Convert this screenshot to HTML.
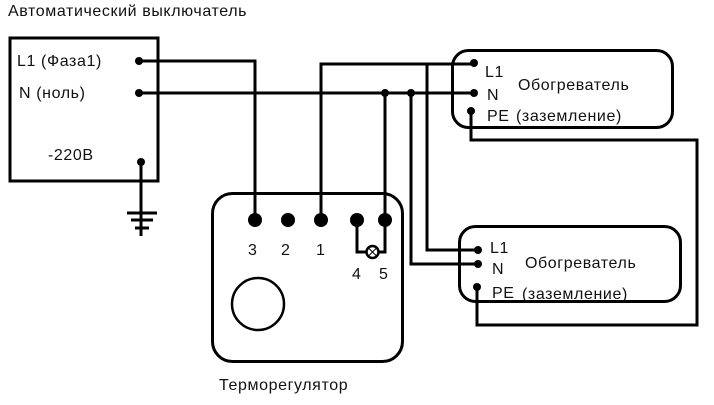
<!DOCTYPE html>
<html><head><meta charset="utf-8"><style>
body{margin:0;background:#fff;width:714px;height:400px;overflow:hidden}
svg text{font-family:"Liberation Sans",sans-serif;font-size:16px;letter-spacing:0.6px;fill:#111}
</style></head><body>
<svg width="714" height="400" viewBox="0 0 714 400" xmlns="http://www.w3.org/2000/svg">
<g fill="none" stroke="#000" stroke-width="3">
<rect x="10" y="38" width="148" height="143"/>
<rect x="212.5" y="193.5" width="190" height="168" rx="20"/>
<rect x="452.5" y="50.5" width="220" height="77" rx="16"/>
<rect x="459.5" y="226.5" width="221" height="75" rx="16"/>
<circle cx="258" cy="304" r="26" stroke-width="2.5"/>
<polyline points="139,61 255,61 255,220"/>
<polyline points="139,93 474,93"/>
<polyline points="321,220 321,64 474,64"/>
<polyline points="385,93 385,220"/>
<polyline points="411,93 411,264 478,264"/>
<polyline points="427,64 427,250 478,250"/>
<polyline points="471,111 471,140 697,140 697,325 477,325 477,287"/>
<polyline points="141,162 141,236"/>
<line x1="127" y1="213" x2="157" y2="213"/>
<line x1="131" y1="220" x2="153" y2="220"/>
<line x1="135" y1="228" x2="149" y2="228"/>
<polyline points="357,220 357,252 366,252"/>
<polyline points="379,252 385,252 385,220"/>
<circle cx="372.5" cy="252" r="6" stroke-width="2.5"/>
<path d="M368.5 248 L376.5 256 M376.5 248 L368.5 256" stroke-width="1"/>
</g>
<g fill="#000">
<circle cx="139" cy="61" r="4"/><circle cx="139" cy="93" r="4"/><circle cx="141" cy="162" r="4"/>
<circle cx="385" cy="93" r="4"/><circle cx="411" cy="93" r="4"/>
<circle cx="474" cy="63" r="4"/><circle cx="474" cy="93" r="4"/><circle cx="471" cy="111" r="4"/>
<circle cx="478" cy="250" r="4"/><circle cx="478" cy="264" r="4"/><circle cx="477" cy="287" r="4"/>
<circle cx="255" cy="220" r="7"/><circle cx="288" cy="220" r="7"/><circle cx="321" cy="220" r="7"/>
<circle cx="357" cy="220" r="7"/><circle cx="385" cy="220" r="7"/>
</g>
<text x="8" y="16">Автоматический выключатель</text>
<text x="17" y="66">L1 (Фаза1)</text>
<text x="19" y="98">N (ноль)</text>
<text x="48" y="160">-220В</text>
<g style="font-size:16px">
<text x="248" y="255">3</text><text x="281" y="255">2</text><text x="316" y="255">1</text>
<text x="352" y="279">4</text><text x="379" y="279">5</text>
</g>
<text x="219" y="390">Терморегулятор</text>
<text x="485" y="77">L1</text>
<text x="518" y="90">Обогреватель</text>
<text x="487" y="100">N</text>
<text x="487" y="121">PE</text><text x="516" y="121">(заземление)</text>
<text x="490" y="253">L1</text>
<text x="525" y="268">Обогреватель</text>
<text x="492" y="274">N</text>
<text x="492" y="298">PE</text><text x="522" y="299">(заземление)</text>
</svg>
</body></html>
